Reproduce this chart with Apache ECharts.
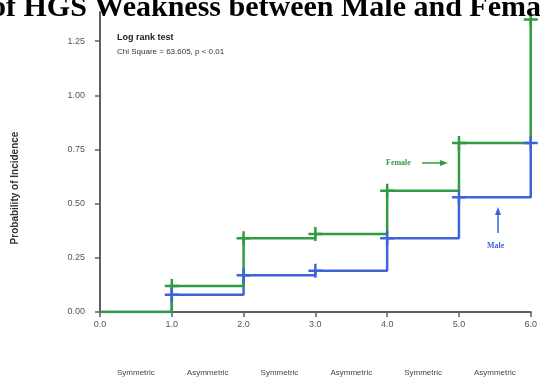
<!DOCTYPE html>
<html>
<head>
<meta charset="utf-8">
<script src="https://cdn.jsdelivr.net/npm/echarts@6/dist/echarts.min.js"></script>
<style>
html,body{margin:0;padding:0;background:#fff;}
#c{width:540px;height:379px;}
</style>
</head>
<body>
<div id="c"></div>
<script>
var times = [0, 1, 2, 3, 4, 5, 6];
var femaleValues = [0, 0.12, 0.34, 0.36, 0.56, 0.78, 1.35];
var maleValues = [0, 0.08, 0.17, 0.19, 0.34, 0.53, 0.78];
var yTicks = [0, 0.25, 0.5, 0.75, 1.0, 1.25];
var xTicks = [0, 1, 2, 3, 4, 5, 6];
var bottomLabels = ['Symmetric', 'Asymmetric', 'Symmetric', 'Asymmetric', 'Symmetric', 'Asymmetric'];

var GREEN = '#2f9c42';
var BLUE = '#3f63d8';
var AXIS = '#5b6065';
var CROSS = 'path://M6,0 H8.6 V6 H14.6 V8.6 H8.6 V14.6 H6 V8.6 H0 V6 H6 Z';

function pairs(vals) { return times.map(function (t, i) { return [t, vals[i]]; }); }
function crossPts(vals) { return times.slice(1).map(function (t, i) { return [t, vals[i + 1]]; }); }

var chart = echarts.init(document.getElementById('c'), null, {renderer: 'canvas'});
chart.setOption({
  animation: false,
  backgroundColor: '#fff',
  grid: {left: 100, right: 9, top: 12, bottom: 67, containLabel: false},
  xAxis: [{
    type: 'value', min: 0, max: 6, interval: 1,
    axisLine: {show: true, lineStyle: {color: AXIS, width: 2}},
    axisTick: {show: true, length: 5, lineStyle: {color: AXIS, width: 1.5}, customValues: xTicks},
    axisLabel: {color: '#555', fontSize: 9, fontFamily: 'Liberation Sans, Arial', margin: 8,
      customValues: xTicks, formatter: function (v) { return v.toFixed(1); }},
    splitLine: {show: false}
  }, {
    type: 'category', position: 'bottom', offset: 49, data: bottomLabels,
    axisLine: {show: false}, axisTick: {show: false},
    axisLabel: {color: '#444', fontSize: 8, fontFamily: 'Liberation Sans, Arial'}
  }],
  yAxis: {
    type: 'value', min: 0, max: 1.385, interval: 0.25,
    axisLine: {show: true, lineStyle: {color: AXIS, width: 2}},
    axisTick: {show: true, length: 5, lineStyle: {color: AXIS, width: 1.5}, customValues: yTicks},
    axisLabel: {color: '#555', fontSize: 9, fontFamily: 'Liberation Sans, Arial', margin: 15,
      customValues: yTicks, formatter: function (v) { return v.toFixed(2); }},
    splitLine: {show: false}
  },
  series: [
    {type: 'line', name: 'Male', step: 'end', data: pairs(maleValues), showSymbol: false, z: 2,
      lineStyle: {color: BLUE, width: 2.5}, itemStyle: {color: BLUE}},
    {type: 'line', name: 'Female', step: 'end', data: pairs(femaleValues), showSymbol: false, z: 3,
      lineStyle: {color: GREEN, width: 2.5}, itemStyle: {color: GREEN}},
    {type: 'scatter', data: crossPts(femaleValues), symbol: CROSS, symbolSize: 14, z: 4,
      itemStyle: {color: GREEN, opacity: 1}},
    {type: 'scatter', data: crossPts(maleValues), symbol: CROSS, symbolSize: 14, z: 5,
      itemStyle: {color: BLUE, opacity: 1}}
  ],
  graphic: [
    {type: 'text', left: -9, top: -7, z: 10,
      style: {text: 'of HGS Weakness between Male and Female', font: 'bold 30px "Liberation Serif", "Times New Roman", serif', fill: '#000'}},
    {type: 'text', x: 15, y: 188, rotation: Math.PI / 2,
      style: {text: 'Probability of Incidence', font: 'bold 10px "Liberation Sans", Arial', fill: '#333', align: 'center', verticalAlign: 'middle'}},
    {type: 'text', left: 117, top: 33,
      style: {text: 'Log rank test', font: 'bold 9px "Liberation Sans", Arial', fill: '#222'}},
    {type: 'text', left: 117, top: 48,
      style: {text: 'Chi Square = 63.605, p < 0.01', font: '8px "Liberation Sans", Arial', fill: '#333'}},
    {type: 'text', left: 386, top: 159,
      style: {text: 'Female', font: 'bold 8px "Liberation Serif", serif', fill: GREEN}},
    {type: 'line', shape: {x1: 422, y1: 163, x2: 442, y2: 163}, style: {stroke: GREEN, lineWidth: 1.5}},
    {type: 'polygon', shape: {points: [[440, 160], [448, 163], [440, 166]]}, style: {fill: GREEN}},
    {type: 'text', left: 487, top: 242,
      style: {text: 'Male', font: 'bold 8px "Liberation Serif", serif', fill: BLUE}},
    {type: 'line', shape: {x1: 498, y1: 233, x2: 498, y2: 214}, style: {stroke: BLUE, lineWidth: 1.5}},
    {type: 'polygon', shape: {points: [[495, 215], [498, 207], [501, 215]]}, style: {fill: BLUE}}
  ]
});
</script>
</body>
</html>
